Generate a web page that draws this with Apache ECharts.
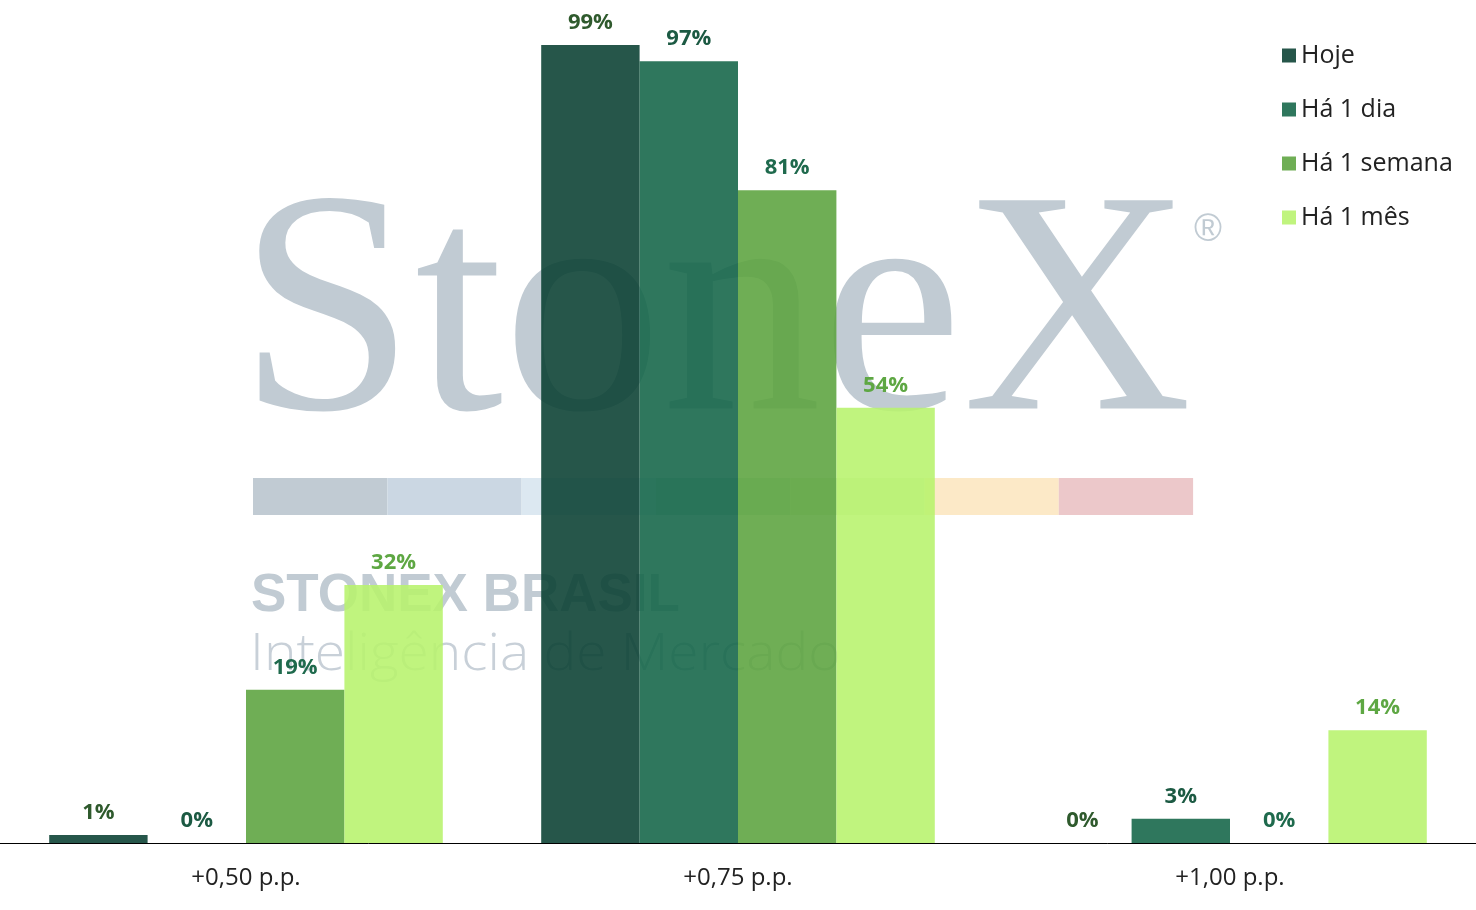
<!DOCTYPE html>
<html>
<head>
<meta charset="utf-8">
<script src="https://cdn.jsdelivr.net/npm/echarts@6/dist/echarts.min.js"></script>
<style>
html,body{margin:0;padding:0;background:#ffffff;}
#chart{width:1476px;height:910px;}
</style>
</head>
<body>
<div id="chart"></div>
<script>
const categories = ['+0,50 p.p.', '+0,75 p.p.', '+1,00 p.p.'];
const seriesNames = ['Hoje', 'Há 1 dia', 'Há 1 semana', 'Há 1 mês'];
const hoje = [1, 99, 0];
const ha1dia = [0, 97, 3];
const ha1semana = [19, 81, 0];
const ha1mes = [32, 54, 14];
const seriesValues = [hoje, ha1dia, ha1semana, ha1mes];

const barColors = ['rgba(8,63,49,0.88)', 'rgba(18,100,71,0.88)', 'rgba(91,163,62,0.88)', 'rgba(183,243,108,0.88)'];
const labelColors = ['#2f5a2d', '#1c5a43', '#1f6a4d', '#5ea743'];
const stripColors = ['#c1cbd3', '#cbd7e3', '#dce8f1', '#cfe6dc', '#dcefd0', '#fce9c7', '#ecc8ca'];

const chart = echarts.init(document.getElementById('chart'));

const graphics = [];
graphics.push({
  type: 'text', z: 0, left: 238, top: 166,
  style: { text: 'StoneX', font: '318px "Liberation Serif"', fill: '#c1cbd3' }
});
graphics.push({
  type: 'text', z: 0, left: 1194, top: 212,
  style: { text: '®', font: '38px "Liberation Sans"', fill: '#c1cbd3' }
});
stripColors.forEach(function (c, i) {
  graphics.push({
    type: 'rect', z: 0,
    shape: { x: 253 + i * 134.3, y: 478, width: 134.3, height: 37 },
    style: { fill: c }
  });
});
graphics.push({
  type: 'text', z: 0, left: 251, top: 570,
  style: { text: 'STONEX BRASIL', font: 'bold 53px "Liberation Sans"', fill: '#c1cbd3' }
});
graphics.push({
  type: 'text', z: 0, x: 250, y: 630, scaleX: 1.08, scaleY: 1,
  style: { text: 'Inteligência de Mercado', font: '300 51px "Open Sans"', fill: '#c8d0d8', verticalAlign: 'top' }
});

const series = seriesNames.map(function (name, i) {
  return {
    name: name,
    type: 'bar',
    z: 2,
    data: seriesValues[i],
    barGap: 0,
    barCategoryGap: '20%',
    itemStyle: { color: barColors[i] },
    label: {
      show: true,
      position: 'top',
      distance: 11,
      formatter: '{c}%',
      color: labelColors[i],
      fontFamily: 'Open Sans',
      fontWeight: 'bold',
      fontSize: 22
    }
  };
});

chart.setOption({
  backgroundColor: '#ffffff',
  animation: false,
  graphic: graphics,
  legend: {
    orient: 'vertical',
    left: 1277,
    top: 38,
    itemWidth: 14,
    itemHeight: 14,
    itemGap: 29,
    icon: 'rect',
    textStyle: { fontFamily: 'Open Sans', fontSize: 25, color: '#222222' },
    data: seriesNames
  },
  grid: { left: 0, right: 0, top: 37, bottom: 67, containLabel: false },
  xAxis: {
    type: 'category',
    data: categories,
    axisLine: { show: true, lineStyle: { color: '#000000', width: 1 } },
    axisTick: { show: false },
    axisLabel: { fontFamily: 'Open Sans', fontSize: 24, color: '#222222', margin: 23 }
  },
  yAxis: {
    type: 'value',
    min: 0,
    max: 100,
    show: false,
    splitLine: { show: false }
  },
  series: series
});
</script>
</body>
</html>
